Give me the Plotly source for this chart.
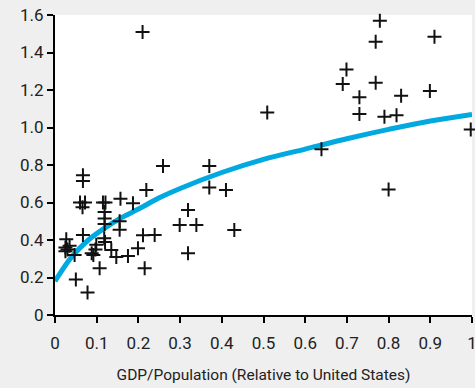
import plotly.graph_objects as go

# Country observations: GDP per capita relative to the US vs. the plotted ratio
gdp_rel = [0.027, 0.025, 0.030, 0.035, 0.025, 0.047, 0.050, 0.078, 0.067, 0.067,
           0.067, 0.060, 0.072, 0.066, 0.088, 0.092, 0.099, 0.097, 0.107, 0.118,
           0.120, 0.115, 0.121, 0.119, 0.119, 0.119, 0.135, 0.147, 0.157, 0.155,
           0.155, 0.175, 0.187, 0.199, 0.211, 0.219, 0.215, 0.239, 0.259, 0.210,
           0.299, 0.319, 0.339, 0.319, 0.370, 0.370, 0.410, 0.430, 0.509, 0.639,
           0.690, 0.699, 0.730, 0.730, 0.769, 0.779, 0.769, 0.790, 0.800, 0.819,
           0.830, 0.899, 0.910, 0.997]
ratio = [0.404, 0.360, 0.350, 0.370, 0.340, 0.320, 0.190, 0.120, 0.427, 0.745,
         0.715, 0.600, 0.600, 0.575, 0.330, 0.320, 0.375, 0.350, 0.250, 0.410,
         0.390, 0.600, 0.600, 0.550, 0.515, 0.485, 0.347, 0.310, 0.620, 0.500,
         0.455, 0.315, 0.596, 0.356, 0.425, 0.667, 0.250, 0.427, 0.795, 1.510,
         0.480, 0.560, 0.480, 0.330, 0.795, 0.680, 0.667, 0.453, 1.080, 0.884,
         1.232, 1.310, 1.161, 1.072, 1.458, 1.570, 1.239, 1.058, 0.670, 1.065,
         1.170, 1.195, 1.484, 0.990]

# Fitted relationship
fit_x = [0.0, 0.04, 0.08, 0.12, 0.16, 0.20, 0.25, 0.30, 0.40, 0.50, 0.60, 0.70, 0.80, 0.90, 1.0]
fit_y = [0.18, 0.31, 0.40, 0.465, 0.52, 0.565, 0.625, 0.675, 0.76, 0.83, 0.885, 0.94, 0.99, 1.035, 1.07]

x_ticks = [0, 0.1, 0.2, 0.3, 0.4, 0.5, 0.6, 0.7, 0.8, 0.9, 1]
x_labels = ["0", "0.1", "0.2", "0.3", "0.4", "0.5", "0.6", "0.7", "0.8", "0.9", "1"]
y_ticks = [0, 0.2, 0.4, 0.6, 0.8, 1.0, 1.2, 1.4, 1.6]
y_labels = ["0", "0.2", "0.4", "0.6", "0.8", "1.0", "1.2", "1.4", "1.6"]

FONT = "Roboto, sans-serif"

fig = go.Figure()
fig.add_trace(go.Scatter(
    x=fit_x, y=fit_y, mode="lines",
    line=dict(color="#00a9e0", width=5, shape="spline"),
    hoverinfo="skip", cliponaxis=False,
))
fig.add_trace(go.Scatter(
    x=gdp_rel, y=ratio, mode="markers",
    marker=dict(symbol="cross-thin", size=10, line=dict(color="#111111", width=2)),
    cliponaxis=False,
))

axis_common = dict(
    showgrid=False, zeroline=False, showline=True, linecolor="#000000", linewidth=2,
    ticks="outside", ticklen=6, tickwidth=2, tickcolor="#000000",
    tickfont=dict(family=FONT, size=17, color="#222222"),
    automargin=False,
)
fig.update_xaxes(range=[0, 1], tickvals=x_ticks, ticktext=x_labels,
                 title=dict(text="GDP/Population (Relative to United States)",
                            font=dict(family=FONT, size=15.5, color="#222222"), standoff=17),
                 ticklabelstandoff=6, ticklabeloverflow="allow",
                 **axis_common)
fig.update_yaxes(range=[0, 1.6], tickvals=y_ticks, ticktext=y_labels, **axis_common)

fig.update_layout(
    width=475, height=388,
    margin=dict(l=55, r=3, t=15, b=73),
    paper_bgcolor="#efefef", plot_bgcolor="#ffffff",
    showlegend=False,
)
fig.write_html("out.html")
